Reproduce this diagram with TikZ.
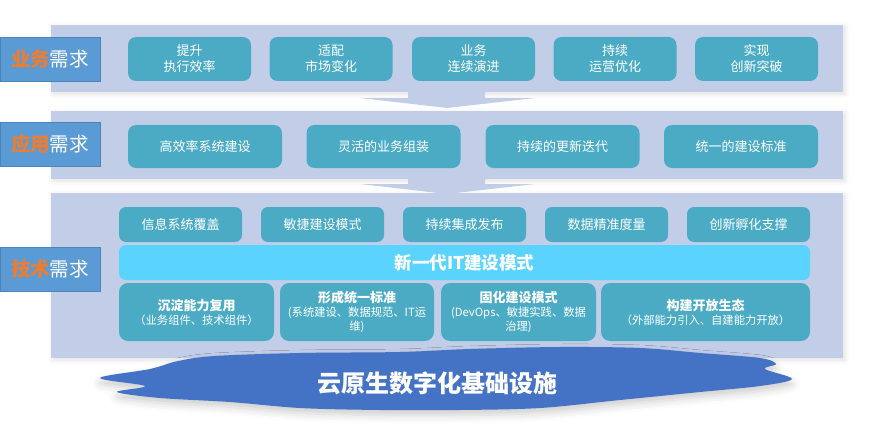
\documentclass[tikz,border=0pt]{standalone}
\usepackage{fontspec}
\setmainfont{Noto Sans CJK SC}
\usetikzlibrary{shadows.blur}
\definecolor{panelbg}{HTML}{C2CDE7}
\definecolor{labelbg}{HTML}{5B9BD5}
\definecolor{teal}{HTML}{4BABC5}
\definecolor{band}{HTML}{5AD3FF}
\definecolor{cloudc}{HTML}{4472C4}
\definecolor{orangec}{HTML}{ED7D31}
\begin{document}
\begin{tikzpicture}[x=1pt,y=-1pt,
  panel/.style={fill=panelbg,draw=none,blur shadow={shadow xshift=2pt,shadow yshift=-2pt,shadow blur radius=5pt,shadow opacity=12}},
  lbl/.style={fill=labelbg,draw=labelbg!85!black,line width=0.4pt,minimum width=100pt,minimum height=44pt,inner sep=0pt,text=white,font=\fontsize{19.5}{22}\selectfont},
  box/.style={fill=teal,draw=none,rounded corners=8pt,inner sep=0pt,text=white,align=center,font=\fontsize{13}{16}\selectfont},
  tbox/.style={box,rounded corners=9pt,font=\fontsize{11.3}{14}\selectfont},
  arrowshape/.style={fill=panelbg,draw=none}
]
\useasboundingbox (0,0) rectangle (870,441);
% panels
\path[panel] (51,25) rectangle (843,92);
\path[panel] (51,111) rectangle (843,179);
\path[panel] (51,193) rectangle (843,358);
% arrows between panels
\path[arrowshape] (408,91) -- (485,91) -- (485,98) -- (535,98) -- (447,108) -- (360,98) -- (408,98) -- cycle;
\path[arrowshape] (408,178) -- (485,178) -- (485,184) -- (535,184) -- (447,194) -- (360,184) -- (408,184) -- cycle;
% labels
\node[lbl] (l1) at (50,59) {\textcolor{orangec}{\textbf{业务}}需求};
\node[lbl] (l2) at (50,144) {\textcolor{orangec}{\textbf{应用}}需求};
\node[lbl] (l3) at (50,269) {\textcolor{orangec}{\textbf{技术}}需求};
% business boxes
\foreach \cx/\t [count=\i] in {189.5/{提升\\执行效率},331/{适配\\市场变化},473.5/{业务\\连续演进},615/{持续\\运营优化},756.5/{实现\\创新突破}}
  \node[box,minimum width=123pt,minimum height=44pt] (b\i) at (\cx,59) {\t};
% application boxes
\foreach \cx/\t [count=\i] in {205/高效率系统建设,383.5/灵活的业务组装,562.5/持续的更新迭代,741/统一的建设标准}
  \node[box,minimum width=154pt,minimum height=43pt] (a\i) at (\cx,146.5) {\t};
% technical top row
\foreach \cx/\t [count=\i] in {180.5/信息系统覆盖,322.5/敏捷建设模式,464.5/持续集成发布,606.5/数据精准度量,748.5/创新孵化支撑}
  \node[box,rounded corners=7pt,minimum width=123pt,minimum height=35pt] (t\i) at (\cx,224.5) {\t};
% band
\node[fill=band,rounded corners=7pt,minimum width=691pt,minimum height=35pt,inner sep=0pt,text=white,font=\fontsize{17.5}{20}\selectfont\bfseries] (band) at (464.5,262.5) {新一代IT建设模式};
% bottom row
\node[tbox,minimum width=155pt,minimum height=58pt] (c1) at (196.5,312) {{\fontsize{13}{16}\selectfont\bfseries 沉淀能力复用}\\（业务组件、技术组件）};
\node[tbox,minimum width=154pt,minimum height=58pt] (c2) at (357,312) {{\fontsize{13}{16}\selectfont\bfseries 形成统一标准}\\(系统建设、数据规范、IT运\\维)};
\node[tbox,minimum width=155pt,minimum height=58pt] (c3) at (518.5,312) {{\fontsize{13}{16}\selectfont\bfseries 固化建设模式}\\(DevOps、敏捷实践、数据\\治理)};
\node[tbox,minimum width=209pt,minimum height=58pt] (c4) at (705.5,312) {{\fontsize{13}{16}\selectfont\bfseries 构建开放生态}\\（外部能力引入、自建能力开放）};
% cloud
\path[fill=cloudc,blur shadow={shadow xshift=0pt,shadow yshift=-5pt,shadow blur radius=8pt,shadow opacity=20}]
  plot[smooth cycle,tension=0.55] coordinates {(100,378) (150,369) (178,361) (215,356) (300,353) (400,352) (470,349) (560,347) (640,348) (700,353) (760,358) (776,364) (765,369) (792,379) (760,386) (700,392) (620,400) (540,408) (460,410) (380,410) (300,408) (230,402) (160,398) (117,392) (145,386)};
\node[text=white,font=\fontsize{24}{27}\selectfont\bfseries] (cloudtext) at (437,383) {云原生数字化基础设施};
\end{tikzpicture}
\end{document}
